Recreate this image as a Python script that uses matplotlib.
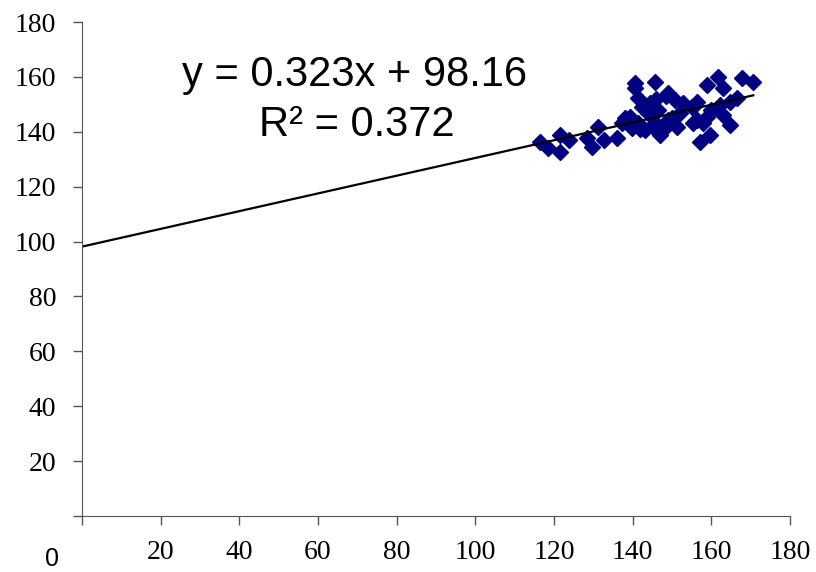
import matplotlib
matplotlib.use("Agg")
import matplotlib.pyplot as plt
import numpy as np

# scatter values
x_vals = [116.4, 118.6, 121.5, 121.5, 123.9, 128.3, 129.6, 131.3, 132.7, 136.1,
          138.1, 140.6, 141.4, 145.7, 142.3, 144.4, 149.1, 150.8, 152.9, 139.3,
          144.0, 146.5, 141.4, 139.8, 143.1, 146.5, 145.7, 149.1, 151.2, 155.4,
          155.0, 156.3, 157.1, 158.8, 161.8, 163.0, 167.7, 170.7, 155.9, 162.2,
          164.8, 166.5, 158.8, 156.3, 163.0, 164.8, 159.7, 158.0, 140.6, 147.0,
          148.0, 150.0, 144.0, 152.0, 146.0, 142.0, 160.0, 137.2, 148.5]
y_vals = [136.4, 134.0, 138.8, 132.8, 137.0, 137.6, 134.6, 141.9, 137.0, 137.6,
          144.9, 157.7, 152.2, 158.3, 149.2, 150.4, 154.0, 151.6, 150.4, 145.5,
          146.8, 148.0, 143.1, 141.3, 140.7, 140.1, 143.1, 144.3, 141.9, 143.1,
          149.2, 151.0, 136.4, 157.1, 160.1, 155.9, 159.5, 158.3, 149.6, 149.6,
          151.0, 152.2, 145.5, 144.3, 146.1, 142.5, 138.8, 143.1, 155.9, 139.0,
          141.0, 145.0, 148.0, 147.0, 152.0, 141.0, 148.0, 143.1, 153.0]

slope = 0.323
intercept = 98.16
r_squared = 0.372

ticks = [0, 20, 40, 60, 80, 100, 120, 140, 160, 180]

def main():
    fig = plt.figure(figsize=(8.16, 5.72), dpi=100)
    ax = fig.add_axes([0.1005, 0.0979, 0.8675, 0.8636])

    ax.plot(x_vals, y_vals, linestyle='none', marker='D', ms=8.5,
            color='#000080', mec='#000080')

    # trend line from 0 to the largest x
    line_x = np.array([0, max(x_vals)])
    ax.plot(line_x, slope * line_x + intercept, color='black', lw=1.6)

    ax.set_xlim(0, 180)
    ax.set_ylim(0, 180)
    ax.set_xticks(ticks)
    ax.set_yticks(ticks)
    ax.set_xticklabels([''] + [str(t) for t in ticks[1:]])
    ax.set_yticklabels([''] + [str(t) for t in ticks[1:]])

    for lab in ax.get_xticklabels() + ax.get_yticklabels():
        lab.set_family('Liberation Serif')
        lab.set_fontsize(20)
    ax.tick_params(axis='both', direction='out', length=6.5, width=1,
                   color='#555555')
    ax.tick_params(axis='x', pad=11)
    ax.tick_params(axis='y', pad=12)

    ax.spines['top'].set_visible(False)
    ax.spines['right'].set_visible(False)
    ax.spines['left'].set_color('#555555')
    ax.spines['bottom'].set_color('#555555')

    # lone zero under the origin
    fig.text(52 / 816, 1 - 566 / 572, '0', family='Liberation Sans',
             fontsize=18, ha='center', va='baseline')

    ax.text(69.4, 160.7, 'y = %.3fx + %.2f' % (slope, intercept),
            family='Liberation Sans', fontsize=30, ha='center', va='center')
    ax.text(70.0, 142.5, 'R² = %.3f' % r_squared,
            family='Liberation Sans', fontsize=30, ha='center', va='center')

    fig.savefig('out.png', dpi=100)

if __name__ == "__main__":
    main()
